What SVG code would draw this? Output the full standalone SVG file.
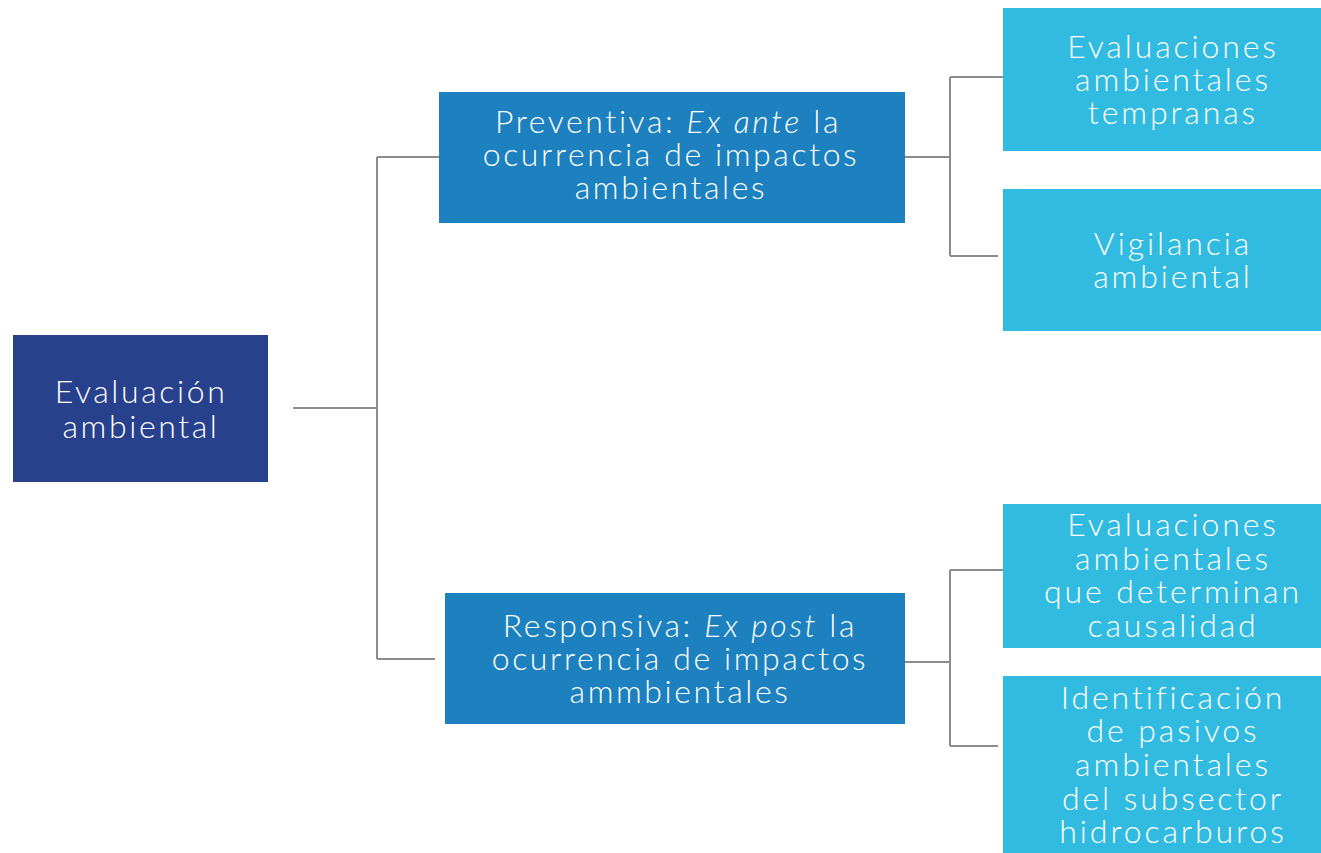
<svg xmlns="http://www.w3.org/2000/svg" width="1321" height="853" viewBox="0 0 1321 853">
<style>
.t{font-family:Lato,"Liberation Sans",sans-serif;font-weight:300;font-size:32px;fill:#ffffff;text-anchor:middle;letter-spacing:2.6px}
.l{font-family:Lato,"Liberation Sans",sans-serif;font-weight:300;font-size:32px;fill:#ffffff;text-anchor:middle;letter-spacing:2.9px}
.root{fill:#27418D}.mid{fill:#1D81BF}.leaf{fill:#31BBE0}
.c{fill:none;stroke:#8C8C8C;stroke-width:2}
</style>
<rect width="1321" height="853" fill="#ffffff"/>
<g id="connectors">
<path class="c" d="M293 408H377M377 157V659M377 157H439M377 659H435"/>
<path class="c" d="M905 157H950M950 77V256M950 77H1003M950 256H998"/>
<path class="c" d="M905 662H950M950 570V746M950 570H1003M950 746H998"/>
</g>
<g id="root">
<rect class="root" x="13" y="335" width="255" height="147"/>
<text class="t" x="141" y="403">Evaluación</text>
<text class="t" x="141" y="438">ambiental</text>
</g>
<g id="preventiva">
<rect class="mid" x="439" y="92" width="466" height="131"/>
<text class="t" x="668" y="133">Preventiva: <tspan font-style="italic">Ex ante</tspan> la</text>
<text class="t" x="671" y="166">ocurrencia de impactos</text>
<text class="t" x="671" y="199">ambientales</text>
</g>
<g id="responsiva">
<rect class="mid" x="445" y="593" width="460" height="131"/>
<text class="t" x="680" y="637">Responsiva: <tspan font-style="italic">Ex post</tspan> la</text>
<text class="t" x="680" y="670">ocurrencia de impactos</text>
<text class="t" x="680" y="703">ammbientales</text>
</g>
<g id="tempranas">
<rect class="leaf" x="1003" y="8" width="318" height="143"/>
<text class="l" x="1173" y="58">Evaluaciones</text>
<text class="l" x="1173" y="91">ambientales</text>
<text class="l" x="1173" y="124">tempranas</text>
</g>
<g id="vigilancia">
<rect class="leaf" x="1003" y="189" width="318" height="142"/>
<text class="l" x="1173" y="255">Vigilancia</text>
<text class="l" x="1173" y="288">ambiental</text>
</g>
<g id="causalidad">
<rect class="leaf" x="1003" y="504" width="318" height="144"/>
<text class="l" x="1173" y="536">Evaluaciones</text>
<text class="l" x="1173" y="570">ambientales</text>
<text class="l" x="1173" y="603">que determinan</text>
<text class="l" x="1173" y="637">causalidad</text>
</g>
<g id="pasivos">
<rect class="leaf" x="1003" y="676" width="318" height="177"/>
<text class="l" x="1173" y="709">Identificación</text>
<text class="l" x="1173" y="742">de pasivos</text>
<text class="l" x="1173" y="776">ambientales</text>
<text class="l" x="1173" y="810">del subsector</text>
<text class="l" x="1173" y="843">hidrocarburos</text>
</g>
</svg>
